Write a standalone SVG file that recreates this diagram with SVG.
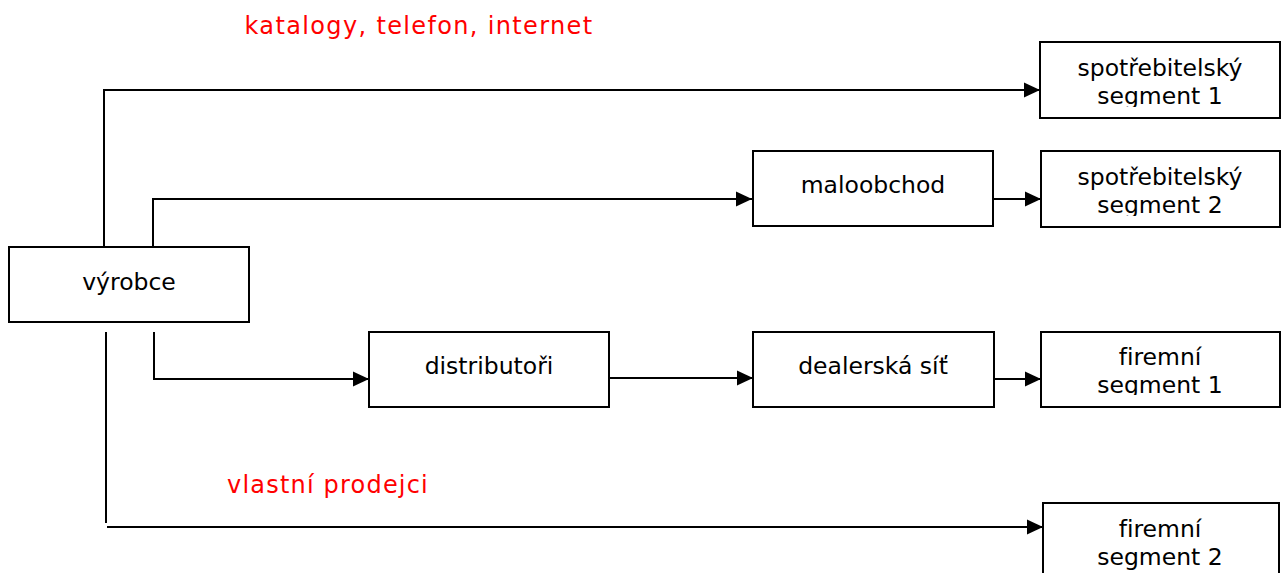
<svg xmlns="http://www.w3.org/2000/svg" width="1281" height="573" viewBox="0 0 1281 573">
  <style>
    .box { fill: #ffffff; stroke: #000000; stroke-width: 2; }
    .lbl { font-family: "DejaVu Sans", Verdana, sans-serif; font-size: 23.5px; fill: #000000; text-anchor: middle; font-variant-ligatures: none; }
    .note { font-family: "DejaVu Sans", Verdana, sans-serif; font-size: 24px; fill: #ff0000; text-anchor: middle; font-variant-ligatures: none; }
    .wire { fill: none; stroke: #000000; stroke-width: 2; }
  </style>
  <defs>
    <marker id="arrow" markerUnits="userSpaceOnUse" markerWidth="16" markerHeight="16" viewBox="0 0 16 16" refX="16" refY="8" orient="auto">
      <path d="M0,0.5 L16,8 L0,15.5 Z" fill="#000000"/>
    </marker>
    <clipPath id="clipS1"><rect x="1040" y="42" width="241" height="65"/></clipPath>
    <clipPath id="clipS2"><rect x="1041" y="151" width="240" height="65"/></clipPath>
    <clipPath id="clipF1"><rect x="1041" y="332" width="240" height="63"/></clipPath>
    <clipPath id="clipF2"><rect x="1043" y="502" width="238" height="68"/></clipPath>
  </defs>

  <rect width="1281" height="573" fill="#ffffff"/>

  <!-- channel labels -->
  <text class="note" x="419" y="34" letter-spacing="1.35">katalogy, telefon, internet</text>
  <text class="note" x="328" y="493" letter-spacing="1.2">vlastní prodejci</text>

  <!-- connectors -->
  <g id="connectors">
    <path class="wire" d="M104,246 V90 H1040" marker-end="url(#arrow)"/>
    <path class="wire" d="M153,246 V199 H752" marker-end="url(#arrow)"/>
    <path class="wire" d="M154,332 V379 H369" marker-end="url(#arrow)"/>
    <path class="wire" d="M106,332 V523"/>
    <path class="wire" d="M107,527 H1043" marker-end="url(#arrow)"/>
    <path class="wire" d="M609,378 H753" marker-end="url(#arrow)"/>
    <path class="wire" d="M993,199 H1041" marker-end="url(#arrow)"/>
    <path class="wire" d="M994,379 H1041" marker-end="url(#arrow)"/>
  </g>

  <g id="vyrobce">
    <rect class="box" x="9" y="247" width="240" height="75"/>
    <text class="lbl" x="129" y="290">výrobce</text>
  </g>

  <g id="maloobchod">
    <rect class="box" x="753" y="151" width="240" height="75"/>
    <text class="lbl" x="873" y="193">maloobchod</text>
  </g>

  <g id="distributori">
    <rect class="box" x="369" y="332" width="240" height="75"/>
    <text class="lbl" x="489" y="374">distributoři</text>
  </g>

  <g id="dealerska-sit">
    <rect class="box" x="753" y="332" width="241" height="75"/>
    <text class="lbl" x="873" y="374">dealerská síť</text>
  </g>

  <g id="spotrebitelsky-segment-1">
    <rect class="box" x="1040" y="42" width="240" height="76"/>
    <text class="lbl" clip-path="url(#clipS1)" x="1160" y="76">spotřebitelský<tspan x="1160" y="104">segment 1</tspan></text>
  </g>

  <g id="spotrebitelsky-segment-2">
    <rect class="box" x="1041" y="151" width="239" height="76"/>
    <text class="lbl" clip-path="url(#clipS2)" x="1160" y="185">spotřebitelský<tspan x="1160" y="213">segment 2</tspan></text>
  </g>

  <g id="firemni-segment-1">
    <rect class="box" x="1041" y="332" width="239" height="75"/>
    <text class="lbl" clip-path="url(#clipF1)" x="1160" y="365">firemní<tspan x="1160" y="393">segment 1</tspan></text>
  </g>

  <g id="firemni-segment-2">
    <rect class="box" x="1043" y="503" width="236" height="80"/>
    <text class="lbl" clip-path="url(#clipF2)" x="1160" y="537">firemní<tspan x="1160" y="565">segment 2</tspan></text>
  </g>
</svg>
